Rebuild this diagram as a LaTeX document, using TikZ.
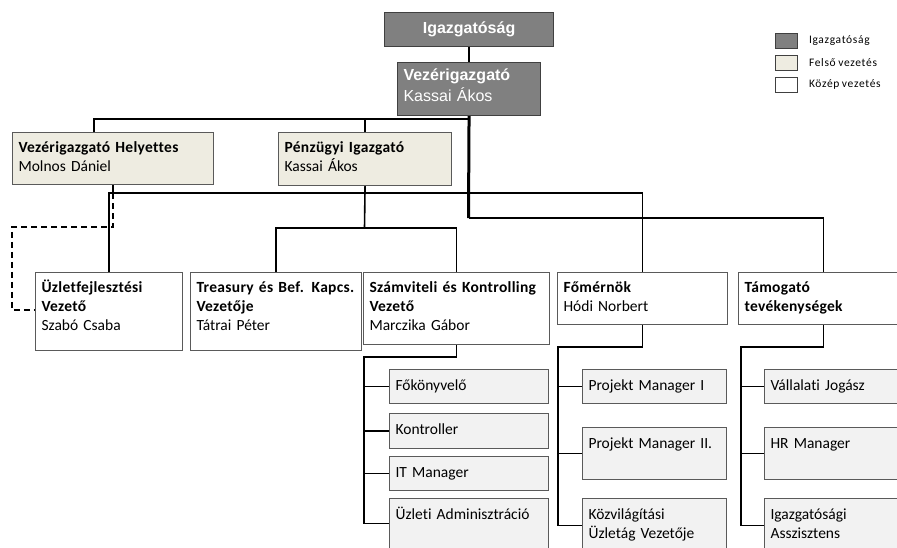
\documentclass[tikz,border=0pt]{standalone}
\usepackage{fontspec}
\setmainfont{Carlito}[WordSpace=0.75,Ligatures=NoCommon]
\newfontfamily\arialfont{Liberation Sans}
\usetikzlibrary{positioning}
\definecolor{dirfill}{HTML}{808080}
\definecolor{dirborder}{HTML}{404040}
\definecolor{felsofill}{HTML}{EEECE1}
\definecolor{subfill}{HTML}{F2F2F2}
\definecolor{boxgray}{HTML}{5A5A5A}
\newcommand{\fej}[1]{\mbox{\textbf{\addfontfeature{LetterSpace=2}#1}}}
\tikzset{
  box/.style={draw=boxgray, line width=1.1pt, anchor=north west, align=left, inner xsep=6pt, inner ysep=0pt, font=\fontsize{15.5}{19}\selectfont, text height=20pt},
  felso/.style={box, fill=felsofill},
  kozep/.style={box, fill=white},
  beosztott/.style={box, fill=subfill, text height=21pt},
  igazg/.style={draw=dirborder, line width=1.1pt, fill=dirfill, text=white, anchor=north west, inner sep=0pt},
  legbox/.style={draw=dirborder, line width=0.8pt, anchor=north west, minimum width=22pt, minimum height=15pt, inner sep=0pt},
  legtext/.style={inner sep=0pt, font=\fontsize{11.5}{13}\selectfont\addfontfeature{LetterSpace=6}}
}
\begin{document}
\begin{tikzpicture}[x=1pt,y=-1pt,line join=miter,
  conn/.style={draw=black, line width=1.6pt},
  vezer/.style={draw=black, line width=3pt},
  szaggatott/.style={draw=black, line width=1.6pt, dash pattern=on 6pt off 4pt}]
\fill[white] (0,0) rectangle (897,547);
\useasboundingbox (0,0) rectangle (897,547);
% felso szint
\node[igazg, minimum width=169pt, minimum height=34pt, font=\arialfont\bfseries\fontsize{16}{19}\selectfont] (top) at (384,12) {Igazgatóság};
\node[igazg, inner xsep=6pt, align=left, text width=131pt, text height=18pt, text depth=35pt, font=\arialfont\fontsize{16}{21}\selectfont] (ceo) at (397,62) {\textbf{Vezérigazgató}\\Kassai Ákos};
\node[felso, text width=189pt, text depth=32pt] (vh) at (12,132) {\fej{Vezérigazgató Helyettes}\\Molnos Dániel};
\node[felso, text width=161pt, text depth=33pt] (pi) at (278,132) {\fej{Pénzügyi Igazgató}\\Kassai Ákos};
% kozep vezetes
\node[kozep, text width=135pt, text depth=58pt] (uzlet) at (35,272) {\fej{Üzletfejlesztési}\\\fej{Vezető}\\Szabó Csaba};
\node[kozep, text width=159pt, text depth=58pt] (treas) at (190,272) {\fej{Treasury és Bef. Kapcs.}\\\fej{Vezetője}\\Tátrai Péter};
\node[kozep, text width=174pt, text depth=52pt] (szam) at (363,272) {\fej{Számviteli és Kontrolling}\\\fej{Vezető}\\Marczika Gábor};
\node[kozep, text width=158pt, text depth=32pt] (fo) at (557,272) {\fej{Főmérnök}\\Hódi Norbert};
\node[kozep, text width=158pt, text depth=32pt] (tam) at (738,272) {\fej{Támogató}\\\fej{tevékenységek}};
% beosztottak
\node[beosztott, text width=147pt, text depth=13pt] (fk) at (389,369) {Főkönyvelő};
\node[beosztott, text width=147pt, text depth=14pt] (kon) at (389,413) {Kontroller};
\node[beosztott, text width=147pt, text depth=13pt] (it) at (389,456) {IT Manager};
\node[beosztott, text width=147pt, text depth=29pt] (ua) at (389,498) {Üzleti Adminisztráció};
\node[beosztott, text width=132pt, text depth=13pt] (pm1) at (582,369) {Projekt Manager I};
\node[beosztott, text width=132pt, text depth=31pt] (pm2) at (582,427) {Projekt Manager II.};
\node[beosztott, text width=132pt, text depth=33pt] (kv) at (582,498) {Közvilágítási\\Üzletág Vezetője};
\node[beosztott, text width=132pt, text depth=13pt] (vj) at (764,369) {Vállalati Jogász};
\node[beosztott, text width=132pt, text depth=31pt] (hr) at (764,427) {HR Manager};
\node[beosztott, text width=132pt, text depth=33pt] (ia) at (764,498) {Igazgatósági\\Asszisztens};
% jelmagyarazat
\foreach \i/\c/\t/\y in {1/dirfill/Igazgatóság/33,2/felsofill/Felső vezetés/55,3/white/Közép vezetés/77}
  \node[legbox, fill=\c] (lg\i) at (775,\y) {} node[legtext, right=11pt of lg\i] (lt\i) {\t};
% osszekotok
\coordinate (hbus) at (94,119);
\coordinate (kbus) at (108.5,193);
\coordinate (mbus) at (468.5,218);
\coordinate (pbus) at (364.5,228);
\coordinate (dsarok) at (12,227);
\coordinate (szbus) at (364,357);
\coordinate (fobus) at (558,347);
\coordinate (tbus) at (741,347);
\draw[conn] (top.south) -- (ceo.north);
\draw[conn] (vh.north -| hbus) -- (hbus) -| (ceo.south);
\draw[conn] (pi.north) -- (pi.north |- hbus);
\draw[vezer] (ceo.south) -- (mbus);
\draw[conn] (mbus) -| (tam.north);
\draw[conn] (vh.south) -- (vh.south |- kbus);
\draw[conn] (uzlet.north) |- (fo.north |- kbus) -- (fo.north);
\draw[szaggatott] (vh.south |- kbus) |- (dsarok) |- (uzlet.west |- 0,310);
\draw[conn] (pi.south) -- (pbus);
\draw[conn] (treas.north) |- (szam.north |- pbus) -- (szam.north);
\draw[conn] (szam.south) |- (szbus) |- (ua.west);
\foreach \n in {fk,kon,it} \draw[conn] (szbus |- \n.west) -- (\n.west);
\draw[conn] (fo.south) |- (fobus) |- (kv.west);
\foreach \n in {pm1,pm2} \draw[conn] (fobus |- \n.west) -- (\n.west);
\draw[conn] (tam.south) |- (tbus) |- (ia.west);
\foreach \n in {vj,hr} \draw[conn] (tbus |- \n.west) -- (\n.west);
\end{tikzpicture}
\end{document}
